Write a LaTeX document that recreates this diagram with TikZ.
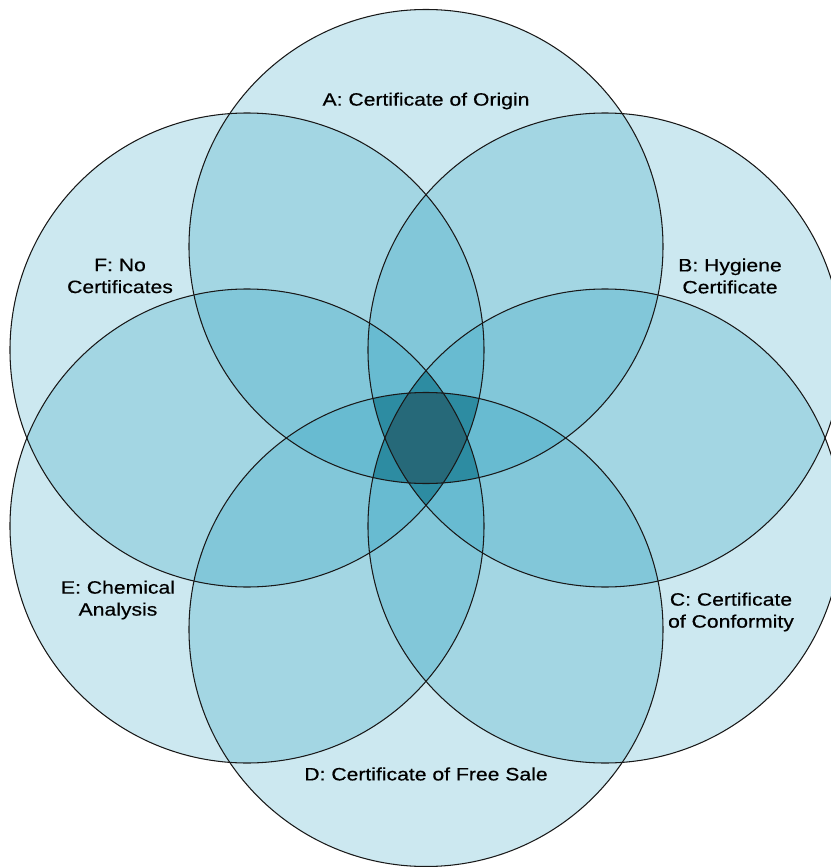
\documentclass[tikz,border=0pt]{standalone}
\usepackage{fontspec}
\setmainfont{Liberation Sans}[FakeStretch=1.18,FakeBold=0.5]
\definecolor{kreisblau}{RGB}{0,140,178}
\definecolor{fuenffach}{RGB}{45,140,162}
\definecolor{sechsfach}{RGB}{38,105,121}
\definecolor{randgrau}{RGB}{25,25,25}
\begin{document}
\begin{tikzpicture}
	\useasboundingbox (-8.52,-8.58) rectangle (8.10,8.76);
	\tikzset{
		menge/.style={fill=kreisblau,fill opacity=0.2},
		rand/.style={draw=randgrau,line width=0.6pt},
		beschriftung/.style={align=center,font=\fontsize{10.2}{12.5}\selectfont}
	}

	% Mittelpunkte der Kreise
	\coordinate (mA) at (0,3.83);
	\coordinate (mB) at (3.58,1.76);
	\coordinate (mC) at (3.58,-1.76);
	\coordinate (mD) at (0,-3.83);
	\coordinate (mE) at (-3.58,-1.76);
	\coordinate (mF) at (-3.58,1.76);

	% Flaechen der sechs Mengen
	\fill[menge] (mA) circle (4.74);
	\fill[menge] (mB) circle (4.74);
	\fill[menge] (mC) circle (4.74);
	\fill[menge] (mD) circle (4.74);
	\fill[menge] (mE) circle (4.74);
	\fill[menge] (mF) circle (4.74);

	% Schnitt von fuenf Mengen (ohne A)
	\begin{scope}
		\clip (mB) circle (4.74); \clip (mC) circle (4.74); \clip (mD) circle (4.74);
		\clip (mE) circle (4.74); \clip (mF) circle (4.74);
		\fill[fuenffach] (-2,-2) rectangle (2,2);
	\end{scope}
	% ohne B
	\begin{scope}
		\clip (mA) circle (4.74); \clip (mC) circle (4.74); \clip (mD) circle (4.74);
		\clip (mE) circle (4.74); \clip (mF) circle (4.74);
		\fill[fuenffach] (-2,-2) rectangle (2,2);
	\end{scope}
	% ohne C
	\begin{scope}
		\clip (mA) circle (4.74); \clip (mB) circle (4.74); \clip (mD) circle (4.74);
		\clip (mE) circle (4.74); \clip (mF) circle (4.74);
		\fill[fuenffach] (-2,-2) rectangle (2,2);
	\end{scope}
	% ohne D
	\begin{scope}
		\clip (mA) circle (4.74); \clip (mB) circle (4.74); \clip (mC) circle (4.74);
		\clip (mE) circle (4.74); \clip (mF) circle (4.74);
		\fill[fuenffach] (-2,-2) rectangle (2,2);
	\end{scope}
	% ohne E
	\begin{scope}
		\clip (mA) circle (4.74); \clip (mB) circle (4.74); \clip (mC) circle (4.74);
		\clip (mD) circle (4.74); \clip (mF) circle (4.74);
		\fill[fuenffach] (-2,-2) rectangle (2,2);
	\end{scope}
	% ohne F
	\begin{scope}
		\clip (mA) circle (4.74); \clip (mB) circle (4.74); \clip (mC) circle (4.74);
		\clip (mD) circle (4.74); \clip (mE) circle (4.74);
		\fill[fuenffach] (-2,-2) rectangle (2,2);
	\end{scope}

	% Schnitt aller sechs Mengen
	\begin{scope}
		\clip (mA) circle (4.74); \clip (mB) circle (4.74); \clip (mC) circle (4.74);
		\clip (mD) circle (4.74); \clip (mE) circle (4.74); \clip (mF) circle (4.74);
		\fill[sechsfach] (-2,-2) rectangle (2,2);
	\end{scope}

	% Raender
	\draw[rand] (mA) circle (4.74);
	\draw[rand] (mB) circle (4.74);
	\draw[rand] (mC) circle (4.74);
	\draw[rand] (mD) circle (4.74);
	\draw[rand] (mE) circle (4.74);
	\draw[rand] (mF) circle (4.74);

	% Beschriftungen
	\node[beschriftung] (labelA) at (0,6.74) {A: Certificate of Origin};
	\node[beschriftung] (labelB) at (6.08,3.24) {B: Hygiene\\Certificate};
	\node[beschriftung] (labelC) at (6.10,-3.48) {C: Certificate\\of Conformity};
	\node[beschriftung] (labelD) at (0,-6.72) {D: Certificate of Free Sale};
	\node[beschriftung] (labelE) at (-6.16,-3.24) {E: Chemical\\Analysis};
	\node[beschriftung] (labelF) at (-6.12,3.24) {F: No\\Certificates};
\end{tikzpicture}
\end{document}
